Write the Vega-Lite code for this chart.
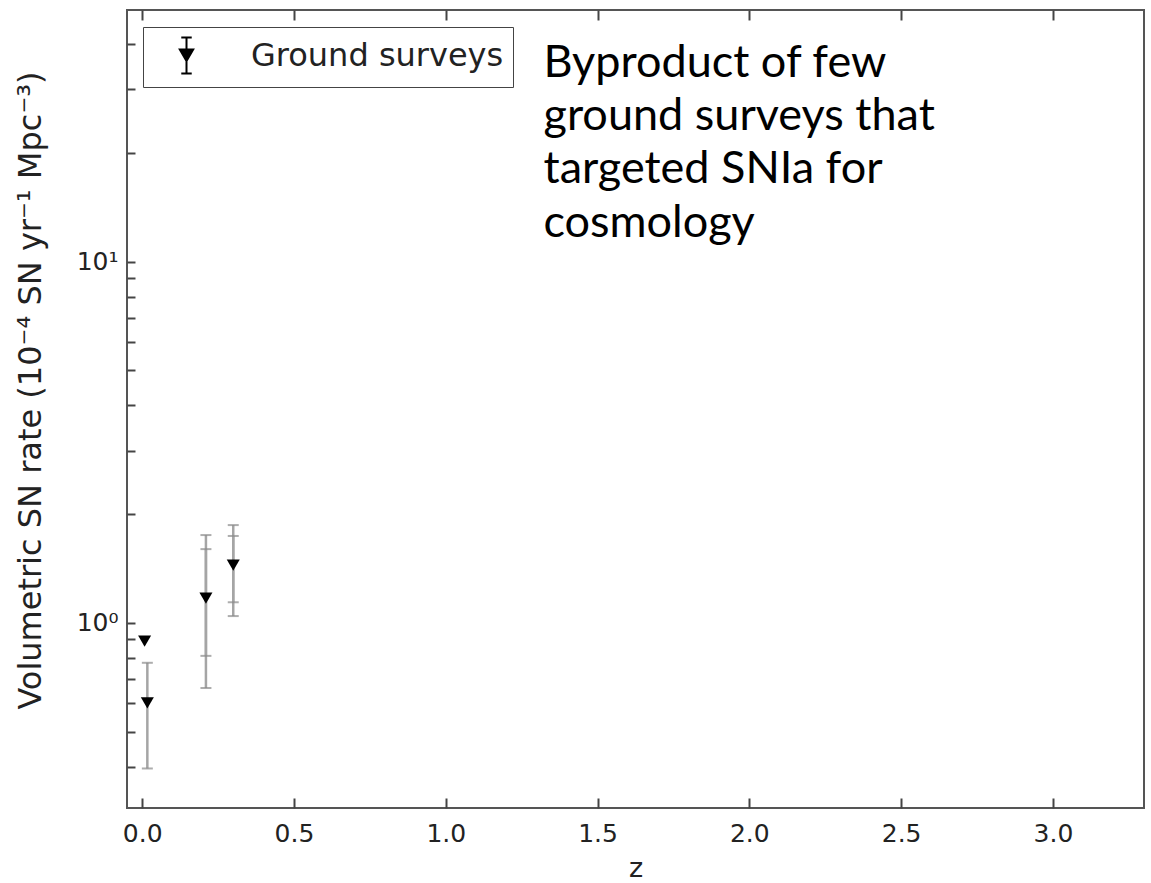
{
  "$schema": "https://vega.github.io/schema/vega-lite/v6.json",
  "width": 1017,
  "height": 798,
  "autosize": {"type": "none"},
  "padding": {"left": 127, "top": 10, "right": 7, "bottom": 75},
  "background": "white",
  "config": {
    "view": {"stroke": "#555", "strokeWidth": 2},
    "font": "DejaVu Sans"
  },
  "datasets": {
    "points": [
      {"z": 0.008, "rate": 0.89, "series": "Ground surveys"},
      {"z": 0.017, "rate": 0.60, "lo1": 0.395, "hi1": 0.775, "series": "Ground surveys"},
      {"z": 0.21, "rate": 1.17, "lo1": 0.81, "hi1": 1.60, "lo2": 0.66, "hi2": 1.75, "series": "Ground surveys"},
      {"z": 0.30, "rate": 1.445, "lo1": 1.14, "hi1": 1.74, "lo2": 1.044, "hi2": 1.865, "series": "Ground surveys"}
    ],
    "note": [
      {"z": 1.322, "rate": 32.55, "text": ["Byproduct of  few", "ground surveys that", "targeted SNIa for", "cosmology"]}
    ]
  },
  "resolve": {"axis": {"x": "independent"}},
  "layer": [
    {
      "data": {"name": "points"},
      "mark": {"type": "point", "opacity": 0, "filled": false, "color": "black", "strokeWidth": 2},
      "encoding": {
        "x": {"field": "z", "type": "quantitative", "scale": {"domain": [-0.05, 3.3], "nice": false, "zero": false},
          "axis": {
            "values": [0, 0.5, 1, 1.5, 2, 2.5, 3], "format": ".1f", "grid": false, "zindex": 1,
            "offset": -10, "domain": false,
            "labelFontSize": 25, "labelColor": "#222", "labelPadding": 13,
            "tickSize": 10, "tickColor": "#444", "tickWidth": 2,
            "title": "z", "titleFontSize": 27, "titleFontWeight": "normal", "titleColor": "#222", "titlePadding": 9
          }
        },
        "y": {"field": "rate", "type": "quantitative", "scale": {"type": "log", "domain": [0.307, 49.8], "nice": false},
          "axis": {
            "values": [0.4, 0.5, 0.6, 0.7, 0.8, 0.9, 1, 2, 3, 4, 5, 6, 7, 8, 9, 10, 20, 30, 40],
            "labelExpr": "datum.value == 1 ? '10⁰' : (datum.value == 10 ? '10¹' : '')",
            "grid": false, "zindex": 1, "offset": -8, "domain": false,
            "labelFontSize": 25, "labelColor": "#222", "labelPadding": 9,
            "tickSize": 8, "tickColor": "#444", "tickWidth": 2,
            "title": "Volumetric SN rate (10⁻⁴ SN yr⁻¹ Mpc⁻³)",
            "titleFontSize": 32, "titleFontWeight": "normal", "titleColor": "#222",
            "titleX": -105, "titleY": 380, "titleBaseline": "middle", "titleAngle": 270
          }
        },
        "shape": {
          "field": "series", "type": "nominal",
          "scale": {"range": ["M-0.29,-1L0.29,-1M0,-1L0,1M-0.29,1L0.29,1M-0.37,-0.33L0.37,-0.33L0,0.3ZM-0.311,-0.23L0.311,-0.23M-0.253,-0.13L0.253,-0.13M-0.194,-0.03L0.194,-0.03M-0.135,0.07L0.135,0.07M-0.076,0.17L0.076,0.17"]},
          "legend": {
            "orient": "none", "legendX": 16, "legendY": 17,
            "title": null, "strokeColor": "#444", "fillColor": "white", "padding": 9, "cornerRadius": 0,
            "symbolSize": 1300, "symbolOffset": 15, "labelOffset": 45, "symbolOpacity": 1, "symbolStrokeWidth": 2,
            "labelFontSize": 32, "labelFont": "DejaVu Sans", "labelColor": "#222", "labelLimit": 500
          }
        }
      }
    },
    {
      "data": {"name": "points"},
      "transform": [{"filter": "datum.lo2 != null"}],
      "mark": {"type": "rule", "color": "#a5a5a5", "strokeWidth": 2.5},
      "encoding": {
        "x": {"field": "z", "type": "quantitative", "axis": null},
        "y": {"field": "lo2", "type": "quantitative"},
        "y2": {"field": "hi2"}
      }
    },
    {
      "data": {"name": "points"},
      "transform": [{"filter": "datum.lo1 != null"}],
      "mark": {"type": "rule", "color": "#a5a5a5", "strokeWidth": 2.5},
      "encoding": {
        "x": {"field": "z", "type": "quantitative", "axis": null},
        "y": {"field": "lo1", "type": "quantitative"},
        "y2": {"field": "hi1"}
      }
    },
    {
      "data": {"name": "points"},
      "transform": [{"filter": "datum.lo2 != null"}],
      "mark": {"type": "tick", "orient": "horizontal", "color": "#8a8a8a", "size": 11, "thickness": 2},
      "encoding": {
        "x": {"field": "z", "type": "quantitative", "axis": null},
        "y": {"field": "lo2", "type": "quantitative"}
      }
    },
    {
      "data": {"name": "points"},
      "transform": [{"filter": "datum.lo2 != null"}],
      "mark": {"type": "tick", "orient": "horizontal", "color": "#8a8a8a", "size": 11, "thickness": 2},
      "encoding": {
        "x": {"field": "z", "type": "quantitative", "axis": null},
        "y": {"field": "hi2", "type": "quantitative"}
      }
    },
    {
      "data": {"name": "points"},
      "transform": [{"filter": "datum.lo1 != null"}],
      "mark": {"type": "tick", "orient": "horizontal", "color": "#8a8a8a", "size": 11, "thickness": 2},
      "encoding": {
        "x": {"field": "z", "type": "quantitative", "axis": null},
        "y": {"field": "lo1", "type": "quantitative"}
      }
    },
    {
      "data": {"name": "points"},
      "transform": [{"filter": "datum.lo1 != null"}],
      "mark": {"type": "tick", "orient": "horizontal", "color": "#8a8a8a", "size": 11, "thickness": 2},
      "encoding": {
        "x": {"field": "z", "type": "quantitative", "axis": null},
        "y": {"field": "hi1", "type": "quantitative"}
      }
    },
    {
      "data": {"name": "points"},
      "mark": {"type": "point", "shape": "triangle-down", "filled": true, "size": 170, "opacity": 1, "color": "black"},
      "encoding": {
        "x": {"field": "z", "type": "quantitative", "axis": null},
        "y": {"field": "rate", "type": "quantitative"}
      }
    },
    {
      "data": {"name": "note"},
      "mark": {"type": "text", "align": "left", "baseline": "alphabetic", "font": "Lato", "fontSize": 45, "lineHeight": 53.3, "color": "black"},
      "encoding": {
        "x": {"field": "z", "type": "quantitative", "axis": null},
        "y": {"field": "rate", "type": "quantitative"},
        "text": {"field": "text"}
      }
    },
    {
      "data": {"name": "points"},
      "mark": {"type": "point", "opacity": 0},
      "encoding": {
        "x": {"field": "z", "type": "quantitative",
          "axis": {"orient": "top", "values": [0, 0.5, 1, 1.5, 2, 2.5, 3], "labels": false, "title": null, "grid": false, "zindex": 1,
            "offset": -10, "domain": false,
            "tickSize": 10, "tickColor": "#444", "tickWidth": 2}
        },
        "y": {"field": "rate", "type": "quantitative"}
      }
    }
  ]
}
